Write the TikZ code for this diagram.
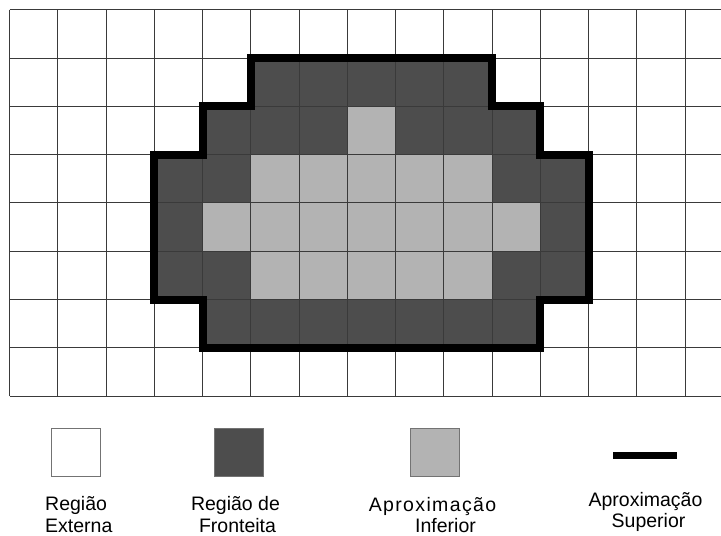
\documentclass[tikz,border=0pt]{standalone}
\usepackage{fontspec}
\setmainfont{Liberation Sans}
\newfontfamily\spacedfont[LetterSpace=7]{Liberation Sans}
\definecolor{darkc}{HTML}{4D4D4D}
\definecolor{lightc}{HTML}{B3B3B3}
\definecolor{gridc}{HTML}{3A3A3A}
\begin{document}
\begin{tikzpicture}[x=1pt,y=-1pt,
  gridline/.style={draw=gridc,line width=1pt},
  outline/.style={draw=black,line width=8pt,line join=miter},
  legsq/.style={draw=gray!90!black,line width=1pt,minimum width=49pt,minimum height=48pt,inner sep=0pt},
  lab/.style={font=\fontsize{19.5}{22}\selectfont,inner sep=0pt},
  slab/.style={font=\spacedfont\fontsize{19.5}{22}\selectfont,inner sep=0pt}]
\useasboundingbox (0,0) rectangle (721,536);
\fill[white] (0,0) rectangle (721,536);
\begin{scope}[shift={(9.5,9.7)},x=48.25pt,y=-48.3pt]
  % boundary region (dark)
  \fill[darkc] (5,1) -- (10,1) -- (10,2) -- (11,2) -- (11,3) -- (12,3) -- (12,6) -- (11,6)
     -- (11,7) -- (4,7) -- (4,6) -- (3,6) -- (3,3) -- (4,3) -- (4,2) -- (5,2) -- cycle;
  % lower approximation (light)
  \foreach \c/\r in {7/2, 5/3,6/3,7/3,8/3,9/3, 4/4,5/4,6/4,7/4,8/4,9/4,10/4, 5/5,6/5,7/5,8/5,9/5}
    \fill[lightc] (\c,\r) rectangle ++(1,1);
  % grid
  \foreach \i in {0,...,14} \draw[gridline] (\i,0) -- (\i,8);
  \foreach \j in {0,...,8} \draw[gridline] (0,\j) -- (14.75,\j);
  % upper approximation outline
  \draw[outline] (5,1) -- (10,1) -- (10,2) -- (11,2) -- (11,3) -- (12,3) -- (12,6) -- (11,6)
     -- (11,7) -- (4,7) -- (4,6) -- (3,6) -- (3,3) -- (4,3) -- (4,2) -- (5,2) -- cycle;
\end{scope}
% legend
\node[legsq,fill=white] (ext) at (75.5,452.5) {};
\node[legsq,fill=darkc] (fro) at (239,452.5) {};
\node[legsq,fill=lightc] (inf) at (435,452.5) {};
\coordinate (s1) at (613,455.5);
\coordinate (s2) at (677,455.5);
\draw[line width=7pt] (s1) -- (s2);
\node[lab,anchor=base west] (ext1) at (45,510) {Região};
\node[lab,anchor=base west] (ext2) at (45,532) {Externa};
\node[lab,anchor=base] (fro1) at (235.5,510) {Região de};
\node[lab,anchor=base] (fro2) at (237.5,532) {Fronteita};
\node[slab,anchor=base] (inf1) at (432.5,511) {Aproximação};
\node[lab,anchor=base] (inf2) at (445.5,532) {Inferior};
\node[lab,anchor=base] (sup1) at (645.5,506) {Aproximação};
\node[lab,anchor=base] (sup2) at (648.5,527) {Superior};
\end{tikzpicture}
\end{document}
